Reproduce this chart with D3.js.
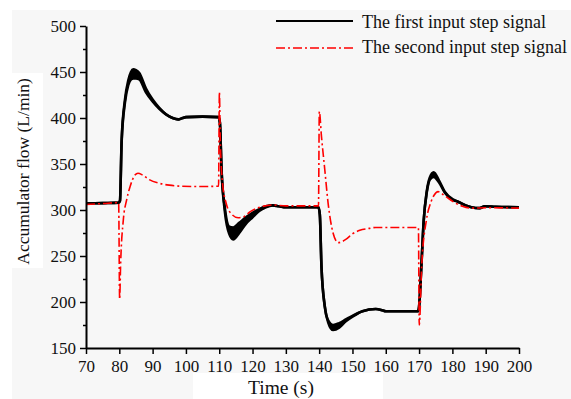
<!DOCTYPE html>
<html>
<head>
<meta charset="utf-8">
<script src="https://cdn.jsdelivr.net/npm/d3@7"></script>
<style>
  body { margin: 0; background: #fff; }
  text { font-family: "Liberation Serif", "Times New Roman", serif; fill: #111; }
</style>
</head>
<body>
<script>
// first input step signal: time, upper and lower envelope of the oscillating band
const blackTime = [70, 75, 79.8, 80.2, 80.7, 81.7, 82.7, 83.5, 84.2, 85, 86, 88, 90, 92, 94, 96, 97.7, 99, 100, 105, 109.8,
  110.2, 110.7, 111.7, 113, 114.2, 116, 118, 120, 122, 124, 126, 128, 130, 139.8,
  140.2, 140.7, 141.7, 142.7, 144.2, 146, 148, 150, 153, 157, 159, 160, 169.7,
  170, 170.7, 171.4, 172.3, 173.2, 174.4, 176, 177.7, 180, 181.7, 184, 185.7, 188.2, 189.7, 193, 200];
const blackHigh = [307, 307.5, 308, 310, 376, 420, 441, 450, 453, 452, 449, 432, 420, 411, 404, 400, 398.5, 400, 401, 401.5, 401,
  395, 343, 302, 282, 281, 286, 292, 297, 301, 304, 305, 304, 303, 303,
  295, 238, 195, 180, 175, 177, 181, 185, 190, 192.4, 191, 190, 190,
  195, 240, 289, 320, 335, 341, 332, 320, 312, 309, 305, 303, 302, 304, 303.5, 303];
const blackLow = [307, 307.5, 308, 310, 374, 417, 436, 442, 443, 443, 442, 428, 418, 410, 404, 400, 398.5, 400, 401, 401.5, 401,
  395, 343, 298, 274, 268, 275, 285, 292, 299, 303, 305, 304, 303, 303,
  295, 238, 195, 178, 169.5, 172, 179, 184, 190, 192.4, 191, 190, 190,
  195, 240, 289, 319, 333, 336, 330, 319, 311, 309, 305, 303, 302, 304, 303.5, 303];

// second input step signal
const redTime = [70, 75, 79.8, 80.1, 80.4, 81.2, 82.2, 83.2, 84.7, 85.6, 87, 89, 92, 95, 98, 105, 109.8,
  110.05, 110.3, 110.9, 112.1, 113.6, 115.7, 117.5, 119.2, 122.7, 126, 130, 139.8,
  140.05, 140.7, 141.7, 142.7, 144.2, 145.7, 148, 150, 152.2, 155, 157, 169.8,
  170.05, 170.8, 172.2, 173.5, 174.5, 175.7, 177.5, 180.7, 183, 185.7, 190, 200];
const redFlow = [306, 307, 308, 203, 242, 289, 311, 325, 338, 340, 338, 333, 329, 327, 326, 325.5, 326,
  428, 380, 332.6, 307, 296, 291.6, 293, 298, 303.6, 305.5, 304.5, 304.5,
  407, 379.7, 343.5, 307, 274.7, 264.5, 268, 274, 278, 280, 281, 281,
  175, 240, 289, 308, 316, 320, 316, 308, 304, 302, 302.5, 302];

const xTicks = [70, 80, 90, 100, 110, 120, 130, 140, 150, 160, 170, 180, 190, 200];
const yTicks = [150, 200, 250, 300, 350, 400, 450, 500];
const yMinor = [175, 225, 275, 325, 375, 425, 475];
const legendLabels = ["The first input step signal", "The second input step signal"];

const W = 571, H = 399;
const margin = { left: 86, right: 52, top: 26, bottom: 51 };

const svg = d3.select('body').append('svg')
  .attr('width', W)
  .attr('height', H);

// page background: grey panel with white patches behind the axis titles
svg.append('rect').attr('x', 12).attr('y', 10).attr('width', W - 12).attr('height', H - 10).attr('fill', '#f7f7f7');
svg.append('rect').attr('x', 0).attr('y', 73).attr('width', 43).attr('height', 195).attr('fill', '#fff');
svg.append('rect').attr('x', 193).attr('y', 373).attr('width', 190).attr('height', 26).attr('fill', '#fff');

const x = d3.scaleLinear().domain([70, 200]).range([margin.left, W - margin.right]);
const y = d3.scaleLinear().domain([150, 500]).range([H - margin.bottom, margin.top]);

// black band + edges
const black = blackTime.map((t, i) => ({ t, hi: blackHigh[i], lo: blackLow[i] }));
svg.append('path')
  .datum(black)
  .attr('fill', '#000')
  .attr('d', d3.area().x(d => x(d.t)).y0(d => y(d.lo)).y1(d => y(d.hi)).curve(d3.curveMonotoneX));
['hi', 'lo'].forEach(k => {
  svg.append('path')
    .datum(black)
    .attr('fill', 'none')
    .attr('stroke', '#000')
    .attr('stroke-width', 2.6)
    .attr('stroke-linejoin', 'round')
    .attr('d', d3.line().x(d => x(d.t)).y(d => y(d[k])).curve(d3.curveMonotoneX));
});

// red dash-dot line
const red = redTime.map((t, i) => ({ t, v: redFlow[i] }));
svg.append('path')
  .datum(red)
  .attr('fill', 'none')
  .attr('stroke', '#ff0000')
  .attr('stroke-width', 1.6)
  .attr('stroke-dasharray', '9,3,2,3')
  .attr('d', d3.line().x(d => x(d.t)).y(d => y(d.v)).curve(d3.curveMonotoneX));

// axes
const xAxis = svg.append('g')
  .attr('transform', `translate(0,${H - margin.bottom})`)
  .call(d3.axisBottom(x).tickValues(xTicks).tickSize(6).tickPadding(6).tickSizeOuter(0));
const yAxis = svg.append('g')
  .attr('transform', `translate(${margin.left},0)`)
  .call(d3.axisLeft(y).tickValues(yTicks).tickSize(6).tickPadding(4).tickSizeOuter(0));
svg.append('g')
  .attr('transform', `translate(${margin.left},0)`)
  .call(d3.axisLeft(y).tickValues(yMinor).tickSize(3).tickFormat('').tickSizeOuter(0))
  .call(g => g.select('.domain').remove())
  .selectAll('line').attr('stroke', '#000').attr('stroke-width', 1.5);

[xAxis, yAxis].forEach(a => {
  a.select('.domain').attr('stroke', '#000').attr('stroke-width', 2);
  a.selectAll('.tick line').attr('stroke', '#000').attr('stroke-width', 1.5);
  a.selectAll('.tick text').style('font-size', '17px').style('font-family', '"Liberation Serif", serif').attr('fill', '#111');
});

// axis titles
svg.append('text')
  .attr('x', 281)
  .attr('y', 394)
  .attr('text-anchor', 'middle')
  .style('font-size', '19.5px')
  .text('Time (s)');
svg.append('text')
  .attr('transform', `translate(29,${y(342)}) rotate(-90)`)
  .attr('text-anchor', 'middle')
  .style('font-size', '17.5px')
  .text('Accumulator flow (L/min)');

// legend
const legend = svg.append('g').attr('transform', 'translate(276,21)');
legend.append('line').attr('x1', 0).attr('x2', 77).attr('y1', 0).attr('y2', 0)
  .attr('stroke', '#000').attr('stroke-width', 2);
legend.append('line').attr('x1', 0).attr('x2', 77).attr('y1', 27).attr('y2', 27)
  .attr('stroke', '#ff0000').attr('stroke-width', 1.6).attr('stroke-dasharray', '9,3,2,3');
legendLabels.forEach((s, i) => {
  legend.append('text')
    .attr('x', 86)
    .attr('y', i * 25 + 7)
    .style('font-size', '18px')
    .text(s);
});
</script>
</body>
</html>
